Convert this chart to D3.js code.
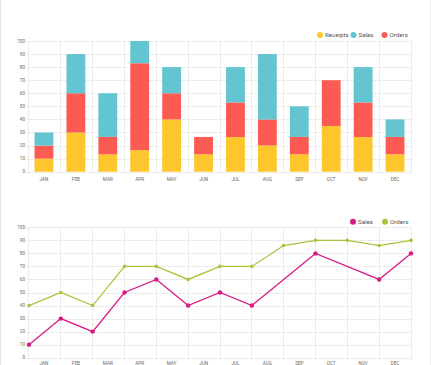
<!DOCTYPE html>
<html>
<head>
<meta charset="utf-8">
<script src="https://cdn.jsdelivr.net/npm/d3@7/dist/d3.min.js"></script>
<style>
  body { margin: 0; background: #fff; }
  svg { display: block; font-family: Roboto, "Open Sans", sans-serif; }
</style>
</head>
<body>
<svg id="chart" width="431" height="365"></svg>
<script>
// data
const months = ["JAN", "FEB", "MAR", "APR", "MAY", "JUN", "JUL", "AUG", "SEP", "OCT", "NOV", "DEC"];
const receipts = [10, 30, 13.3, 16.5, 40, 13.3, 26.5, 20, 13.3, 35, 26.5, 13.3];
const orders   = [10, 30, 13.3, 66.5, 20, 13.3, 26.5, 20, 13.3, 35, 26.5, 13.3];
const sales    = [10, 30, 33.4, 17, 20, 0, 27, 50, 23.4, 0, 27, 13.4];
const yTicks = d3.range(0, 101, 10);

// line chart: 13 points sitting on the grid lines, gaps where no marker is drawn
const lineSales  = [10, 30, 20, 50, 60, 40, 50, 40, null, 80, null, 60, 80];
const lineOrders = [40, 50, 40, 70, 70, 60, 70, 70, 86, 90, 90, 86, 90];

const YELLOW = "#fcc62c";
const TEAL = "#62c5d1";
const RED = "#fc5b54";
const PINK = "#d81b84";
const GREEN = "#a5c63b";
const GRID = "#ececec";
const TXT = "#666";

const svg = d3.select("#chart");

// faint card edges
svg.append("line").attr("x1", 0.5).attr("x2", 0.5).attr("y1", 0).attr("y2", 365).attr("stroke", "#e4e4e4");
svg.append("line").attr("x1", 430.5).attr("x2", 430.5).attr("y1", 0).attr("y2", 365).attr("stroke", "#eeeeee");

const left = 28, right = 411;

// draws the grid + y axis for one panel
function grid(g, y, band) {
  g.selectAll(".hg").data(yTicks).join("line")
    .attr("x1", left - 2).attr("x2", right)
    .attr("y1", d => Math.round(y(d)) + 0.5).attr("y2", d => Math.round(y(d)) + 0.5)
    .attr("stroke", GRID);
  const edges = d3.range(0, months.length + 1);
  g.selectAll(".vg").data(edges).join("line")
    .attr("x1", i => Math.round(left + i * band.step()) + 0.5)
    .attr("x2", i => Math.round(left + i * band.step()) + 0.5)
    .attr("y1", y(100)).attr("y2", y(0) + 2)
    .attr("stroke", GRID);
  g.selectAll(".yl").data(yTicks).join("text")
    .attr("x", left - 3).attr("y", d => y(d) + 1.7)
    .attr("text-anchor", "end").attr("font-size", 4.6).attr("fill", TXT)
    .text(d => d);
}

function legend(g, items, x0, y0) {
  items.forEach((it, i) => {
    const gx = x0[i];
    g.append("circle").attr("cx", gx).attr("cy", y0).attr("r", 3).attr("fill", it.color);
    g.append("text").attr("x", gx + 5).attr("y", y0 + 2.2)
      .attr("font-size", 6.2).attr("fill", "#555").text(it.name);
  });
}

// ---------- top: stacked bars ----------
const barG = svg.append("g");
const x = d3.scaleBand().domain(months).range([left, right]).paddingInner(0.41).paddingOuter(0.205);
const xb = d3.scaleBand().domain(months).range([left, right]);
const y1 = d3.scaleLinear().domain([0, 100]).range([171.7, 41]);
grid(barG, y1, xb);

const table = months.map((m, i) => ({ month: m, receipts: receipts[i], orders: orders[i], sales: sales[i] }));
const stack = d3.stack().keys(["receipts", "orders", "sales"])(table);
const colors = { receipts: YELLOW, orders: RED, sales: TEAL };

barG.selectAll(".layer").data(stack).join("g")
  .attr("fill", d => colors[d.key])
  .selectAll("rect").data(d => d).join("rect")
  .attr("x", d => x(d.data.month))
  .attr("width", x.bandwidth())
  .attr("y", d => y1(d[1]))
  .attr("height", d => y1(d[0]) - y1(d[1]));

barG.selectAll(".xl").data(months).join("text")
  .attr("x", d => xb(d) + xb.bandwidth() / 2).attr("y", 181)
  .attr("text-anchor", "middle").attr("font-size", 4.6).attr("fill", TXT)
  .text(d => d);

legend(barG, [{ name: "Receipts", color: YELLOW }, { name: "Sales", color: TEAL }, { name: "Orders", color: RED }],
  [320, 353.5, 384.5], 35);

// ---------- bottom: lines ----------
const lineG = svg.append("g");
const y2 = d3.scaleLinear().domain([0, 100]).range([357.7, 227.3]);
const xp = d3.scalePoint().domain(d3.range(lineOrders.length)).range([left + 1, right]);
grid(lineG, y2, xb);

lineG.selectAll(".xl").data(months).join("text")
  .attr("x", d => xb(d) + xb.bandwidth() / 2).attr("y", 364.6)
  .attr("text-anchor", "middle").attr("font-size", 4.6).attr("fill", TXT)
  .text(d => d);

const series = [
  { name: "Orders", color: GREEN, values: lineOrders },
  { name: "Sales", color: PINK, values: lineSales }
];
const line = d3.line().x(d => xp(d.i)).y(d => y2(d.v));

series.forEach(s => {
  const pts = s.values.map((v, i) => ({ i, v })).filter(d => d.v !== null);
  lineG.append("path").datum(pts).attr("d", line)
    .attr("fill", "none").attr("stroke", s.color).attr("stroke-width", 1.3);
  lineG.append("g").selectAll("circle").data(pts).join("circle")
    .attr("cx", d => xp(d.i)).attr("cy", d => y2(d.v))
    .attr("r", s.name === "Sales" ? 2.2 : 1.8).attr("fill", s.color);
});

legend(lineG, [{ name: "Sales", color: PINK }, { name: "Orders", color: GREEN }], [353, 385], 221.7);
</script>
</body>
</html>
